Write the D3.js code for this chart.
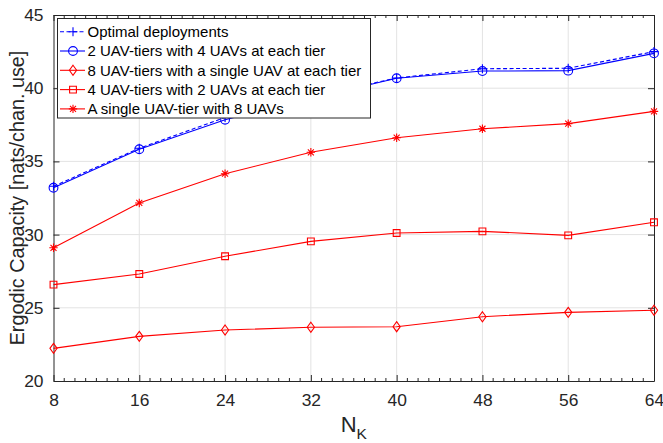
<!DOCTYPE html>
<html>
<head>
<meta charset="utf-8">
<script src="https://cdn.jsdelivr.net/npm/d3@7"></script>
<style>
  html, body { margin: 0; padding: 0; background: #fff; }
  svg { display: block; font-family: "Liberation Sans", Arial, sans-serif; }
</style>
</head>
<body>
<svg id="chart" width="663" height="443"></svg>
<script>
// Number of antennas per user group on the x axis
const nK = [8, 16, 24, 32, 40, 48, 56, 64];

// Ergodic capacity of each deployment scheme [nats/chan. use]
const optimal      = [33.3, 35.9, 38.0, 39.4, 40.7, 41.33, 41.36, 42.5];
const twoTiers     = [33.2, 35.83, 37.85, 39.3, 40.68, 41.17, 41.2, 42.38];
const eightTiers   = [22.23, 23.05, 23.48, 23.67, 23.71, 24.39, 24.69, 24.83];
const fourTiers    = [26.58, 27.31, 28.52, 29.54, 30.11, 30.22, 29.95, 30.84];
const singleTier   = [29.1, 32.16, 34.16, 35.62, 36.62, 37.23, 37.58, 38.42];

// Axis ticks
const xTicks = [8, 16, 24, 32, 40, 48, 56, 64];
const yTicks = [20, 25, 30, 35, 40, 45];

// Legend labels
const labels = [
  "Optimal deployments",
  "2 UAV-tiers with 4 UAVs at each tier",
  "8 UAV-tiers with a single UAV at each tier",
  "4 UAV-tiers with 2 UAVs at each tier",
  "A single UAV-tier with 8 UAVs"
];

const series = [
  { values: optimal,    color: "#0000ff", dash: "4,2.5", marker: "plus" },
  { values: twoTiers,   color: "#0000ff", dash: null,    marker: "circle" },
  { values: eightTiers, color: "#ff0000", dash: null,    marker: "diamond" },
  { values: fourTiers,  color: "#ff0000", dash: null,    marker: "square" },
  { values: singleTier, color: "#ff0000", dash: null,    marker: "star" }
];

const plot = { left: 53.5, right: 654, top: 15, bottom: 381 };
const axisColor = "#262626";

const svg = d3.select("#chart");

const x = d3.scaleLinear().domain([8, 64]).range([plot.left, plot.right]);
const y = d3.scaleLinear().domain([20, 45]).range([plot.bottom, plot.top]);

// Grid lines
const grid = svg.append("g").attr("stroke", "#e3e3e3").attr("stroke-width", 1);
grid.selectAll("line.gx").data(xTicks.slice(1, -1)).join("line")
  .attr("x1", d => x(d)).attr("x2", d => x(d))
  .attr("y1", plot.top).attr("y2", plot.bottom);
grid.selectAll("line.gy").data(yTicks.slice(1, -1)).join("line")
  .attr("x1", plot.left).attr("x2", plot.right)
  .attr("y1", d => y(d)).attr("y2", d => y(d));

// Axes with inward ticks
const minorX = d3.range(8, 65, 1).filter(v => !xTicks.includes(v));

const bottomAxis = d3.axisBottom(x).tickValues(xTicks).tickSizeInner(-6).tickSizeOuter(0).tickPadding(13);
const topAxis = d3.axisTop(x).tickValues(xTicks).tickSizeInner(-6).tickSizeOuter(0).tickFormat("");
const leftAxis = d3.axisLeft(y).tickValues(yTicks).tickSizeInner(-6).tickSizeOuter(0).tickPadding(10);
const rightAxis = d3.axisRight(y).tickValues(yTicks).tickSizeInner(-6).tickSizeOuter(0).tickFormat("");

function styleAxis(g) {
  g.select(".domain").attr("stroke", axisColor).attr("stroke-width", 1);
  g.selectAll(".tick line").attr("stroke", axisColor).attr("stroke-width", 1);
  g.selectAll(".tick text").attr("fill", axisColor).style("font-size", "17.4px")
    .attr("font-family", "Liberation Sans, Arial, sans-serif");
}

svg.append("g").attr("transform", `translate(0,${plot.bottom})`).call(bottomAxis).call(styleAxis);
svg.append("g").attr("transform", `translate(0,${plot.top})`).call(topAxis).call(styleAxis);
svg.append("g").attr("transform", `translate(${plot.left},0)`).call(leftAxis).call(styleAxis);
svg.append("g").attr("transform", `translate(${plot.right},0)`).call(rightAxis).call(styleAxis);

// Minor ticks along the x axis (bottom and top)
const minor = svg.append("g").attr("stroke", axisColor).attr("stroke-width", 1);
minor.selectAll("line.mb").data(minorX).join("line")
  .attr("x1", d => x(d)).attr("x2", d => x(d))
  .attr("y1", plot.bottom).attr("y2", plot.bottom - 3);
minor.selectAll("line.mt").data(minorX).join("line")
  .attr("x1", d => x(d)).attr("x2", d => x(d))
  .attr("y1", plot.top).attr("y2", plot.top + 3);

// Axis labels
svg.append("text")
  .attr("transform", `translate(24,${(plot.top + plot.bottom) / 2}) rotate(-90)`)
  .attr("text-anchor", "middle")
  .attr("fill", axisColor)
  .style("font-size", "19.8px")
  .text("Ergodic Capacity [nats/chan. use]");

const xl = svg.append("text")
  .attr("x", (plot.left + plot.right) / 2)
  .attr("y", 432)
  .attr("text-anchor", "middle")
  .attr("fill", axisColor)
  .style("font-size", "22px");
xl.append("tspan").text("N");
xl.append("tspan").attr("dy", 7).style("font-size", "15.5px").text("K");

// Marker shapes
function markerPath(type) {
  switch (type) {
    case "plus": return "M-4.5,0H4.5M0,-4.5V4.5";
    case "circle": return d3.symbol(d3.symbolCircle, Math.PI * 4.4 * 4.4)();
    case "diamond": return "M0,-5L3.6,0L0,5L-3.6,0Z";
    case "square": return "M-3.4,-3.4H3.4V3.4H-3.4Z";
    case "star": return "M-4.2,0H4.2M0,-4.2V4.2M-3,-3L3,3M-3,3L3,-3";
  }
}

const line = d3.line().x((d, i) => x(nK[i])).y(d => y(d));

const drawOrder = [4, 3, 2, 1, 0];
drawOrder.forEach(k => {
  const s = series[k];
  const g = svg.append("g");
  g.append("path")
    .attr("d", line(s.values))
    .attr("fill", "none")
    .attr("stroke", s.color)
    .attr("stroke-width", 1.1)
    .attr("stroke-dasharray", s.dash);
  g.selectAll("path.m").data(s.values).join("path")
    .attr("class", "m")
    .attr("transform", (d, i) => `translate(${x(nK[i])},${y(d)})`)
    .attr("d", markerPath(s.marker))
    .attr("fill", "none")
    .attr("stroke", s.color)
    .attr("stroke-width", 1.1);
});

// Legend
const legend = svg.append("g");
legend.append("rect")
  .attr("x", 57.5).attr("y", 18.5).attr("width", 313).attr("height", 99.5)
  .attr("fill", "#fff").attr("stroke", axisColor).attr("stroke-width", 1);

labels.forEach((lab, i) => {
  const s = series[i];
  const cy = 31.7 + i * 19.3;
  legend.append("line")
    .attr("x1", 60).attr("x2", 85).attr("y1", cy).attr("y2", cy)
    .attr("stroke", s.color).attr("stroke-width", 1.1)
    .attr("stroke-dasharray", s.dash);
  legend.append("path")
    .attr("transform", `translate(73,${cy})`)
    .attr("d", markerPath(s.marker))
    .attr("fill", "none").attr("stroke", s.color).attr("stroke-width", 1.1);
  legend.append("text")
    .attr("x", 87.5).attr("y", cy + 5.4)
    .attr("fill", "#000")
    .style("font-size", "15px")
    .text(lab);
});
</script>
</body>
</html>
